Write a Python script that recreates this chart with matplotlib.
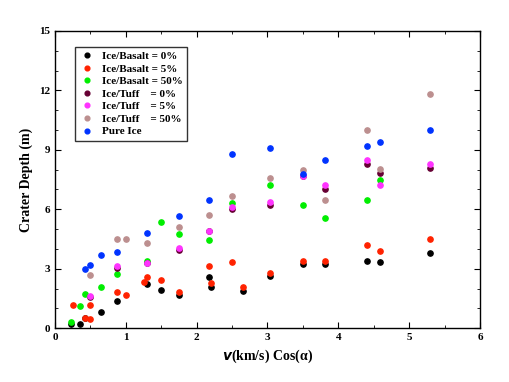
import numpy as np
import matplotlib.pyplot as plt
from matplotlib.ticker import MultipleLocator

# Ice/Basalt = 0%
xb0 = [0.22, 0.35, 0.43, 0.65, 0.87, 1.30, 1.50, 1.75, 2.17, 2.20, 2.65, 3.03, 3.50, 3.81, 4.40, 4.59, 5.30]
yb0 = [0.22, 0.22, 0.50, 0.81, 1.36, 2.25, 1.95, 1.68, 2.59, 2.10, 1.88, 2.62, 3.23, 3.23, 3.38, 3.36, 3.80]
# Ice/Basalt = 5%
xb5 = [0.25, 0.43, 0.50, 0.50, 0.87, 1.00, 1.25, 1.30, 1.50, 1.75, 2.17, 2.20, 2.50, 2.65, 3.03, 3.50, 3.81, 4.40, 4.59, 5.30]
yb5 = [1.18, 0.50, 0.47, 1.18, 1.82, 1.65, 2.35, 2.56, 2.45, 1.82, 3.14, 2.29, 3.35, 2.10, 2.79, 3.38, 3.38, 4.20, 3.87, 4.50]
# Ice/Basalt = 50%
xb50 = [0.22, 0.35, 0.43, 0.65, 0.87, 1.30, 1.50, 1.75, 2.17, 2.50, 3.03, 3.50, 3.81, 4.40, 4.59]
yb50 = [0.30, 1.11, 1.72, 2.10, 2.72, 3.40, 5.35, 4.74, 4.46, 6.31, 7.20, 6.19, 5.57, 6.49, 7.50]
# Ice/Tuff = 0%
xt0 = [0.50, 0.87, 1.30, 1.75, 2.17, 2.50, 3.03, 3.50, 3.81, 4.40, 4.59, 5.30]
yt0 = [1.55, 3.06, 3.30, 3.95, 4.88, 5.99, 6.19, 7.70, 7.00, 8.29, 7.84, 8.09]
# Ice/Tuff = 5%
xt5 = [0.50, 0.87, 1.30, 1.75, 2.17, 2.50, 3.03, 3.50, 3.81, 4.40, 4.59, 5.30]
yt5 = [1.60, 3.16, 3.30, 4.04, 4.88, 6.09, 6.39, 7.67, 7.20, 8.51, 7.20, 8.27]
# Ice/Tuff = 50%
xt50 = [0.50, 0.87, 1.00, 1.30, 1.75, 2.17, 2.50, 3.03, 3.50, 3.81, 4.40, 4.59, 5.30]
yt50 = [2.66, 4.49, 4.49, 4.29, 5.10, 5.70, 6.69, 7.60, 8.00, 6.49, 10.00, 8.04, 11.80]
# Pure Ice
xp = [0.43, 0.50, 0.65, 0.87, 1.30, 1.75, 2.17, 2.50, 3.03, 3.50, 3.81, 4.40, 4.59, 5.30]
yp = [2.99, 3.19, 3.67, 3.83, 4.81, 5.68, 6.47, 8.79, 9.10, 7.79, 8.49, 9.20, 9.40, 10.00]

series = [
    (xb0, yb0, '#000000', 'Ice/Basalt = 0%'),
    (xb5, yb5, '#ff2200', 'Ice/Basalt = 5%'),
    (xb50, yb50, '#00ee00', 'Ice/Basalt = 50%'),
    (xt0, yt0, '#660033', 'Ice/Tuff    = 0%'),
    (xt5, yt5, '#ff33ff', 'Ice/Tuff    = 5%'),
    (xt50, yt50, '#bc8f8f', 'Ice/Tuff    = 50%'),
    (xp, yp, '#0033ff', 'Pure Ice'),
]

plt.rcParams['font.family'] = ['Liberation Serif', 'DejaVu Serif']
plt.rcParams['font.weight'] = 'bold'

fig = plt.figure(figsize=(5.09, 3.82), dpi=100)
ax = fig.add_axes([0.108, 0.141, 0.835, 0.778])

for x, y, c, lab in series:
    ax.plot(x, y, 'o', color=c, markersize=3.8, label=lab, linestyle='none')

ax.set_xlim(0, 6)
ax.set_ylim(0, 15)
ax.xaxis.set_major_locator(MultipleLocator(1))
ax.xaxis.set_minor_locator(MultipleLocator(0.5))
ax.yaxis.set_major_locator(MultipleLocator(3))
ax.yaxis.set_minor_locator(MultipleLocator(1))
ax.tick_params(which='both', direction='in', top=True, right=True, labelsize=8)
ax.tick_params(which='major', length=4)
ax.tick_params(which='minor', length=2)
for s in ax.spines.values():
    s.set_linewidth(1.0)

# x label: italic v, then regular-weight alpha
ax.set_xlabel(r'$\it{v}$(km/s) Cos(α)', fontsize=10, fontweight='bold')
ax.set_ylabel('Crater Depth (m)', fontsize=10, fontweight='bold')

leg = ax.legend(loc='upper left', bbox_to_anchor=(0.035, 0.965), fontsize=8,
                frameon=True, fancybox=False, edgecolor='black', handletextpad=0.8,
                labelspacing=0.25, borderpad=0.4, handlelength=1.2, markerscale=0.9)
leg.get_frame().set_linewidth(1.0)

plt.savefig('out.png', dpi=100)
